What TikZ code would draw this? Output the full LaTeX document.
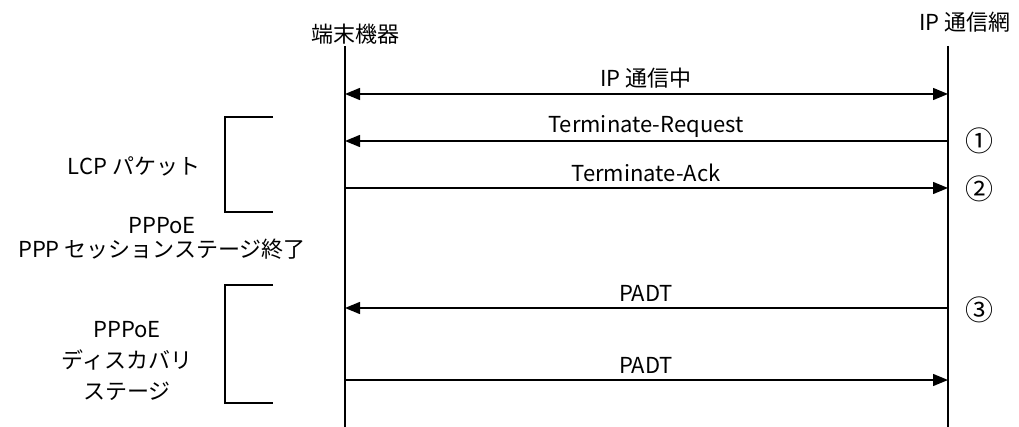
\documentclass[tikz,border=0pt]{standalone}
\usepackage{fontspec}
\setmainfont{Noto Sans CJK JP}
\usetikzlibrary{arrows.meta}
\tikzset{
  txt/.style={inner sep=0pt, font=\fontsize{22}{26}\selectfont},
  num/.style={inner sep=0pt, font=\fontsize{28}{30}\selectfont},
  life/.style={line width=1.6pt},
  msg/.style={line width=1.4pt, -{Triangle[length=15pt,width=12pt]}},
  dmsg/.style={line width=1.4pt, {Triangle[length=15pt,width=12pt]}-{Triangle[length=15pt,width=12pt]}},
  brk/.style={line width=1.3pt},
}
\begin{document}
\begin{tikzpicture}[x=1pt,y=-1pt]
\useasboundingbox (0,0) rectangle (1019,427);
% headers
\node[txt] (hA) at (355,34) {端末機器};
\node[txt] (hB) at (965,22) {IP 通信網};
% lifelines
\coordinate (aT) at (345,46);
\coordinate (aB) at (345,427);
\coordinate (bT) at (948,46);
\coordinate (bB) at (948,427);
\draw[life] (aT) -- (aB);
\draw[life] (bT) -- (bB);
% message endpoints
\coordinate (a1) at (345,94);  \coordinate (b1) at (948,94);
\coordinate (a2) at (345,141); \coordinate (b2) at (948,141);
\coordinate (a3) at (345,188); \coordinate (b3) at (948,188);
\coordinate (a4) at (345,308); \coordinate (b4) at (948,308);
\coordinate (a5) at (345,380); \coordinate (b5) at (948,380);
\draw[dmsg] (a1) -- (b1);
\draw[msg] (b2) -- (a2);
\draw[msg] (a3) -- (b3);
\draw[msg] (b4) -- (a4);
\draw[msg] (a5) -- (b5);
% message labels
\node[txt] (l1) at (646,78) {IP 通信中};
\node[txt] (l2) at (646,126) {Terminate-Request};
\node[txt] (l3) at (646,173) {Terminate-Ack};
\node[txt] (l4) at (646,293) {PADT};
\node[txt] (l5) at (646,365) {PADT};
% circled numbers
\node[num] (n1) at (979,141) {①};
\node[num] (n2) at (979,189) {②};
\node[num] (n3) at (979,310) {③};
% brackets
\draw[brk] (273,117) -- (225,117) -- (225,212) -- (273,212);
\draw[brk] (273,285) -- (225,285) -- (225,403) -- (273,403);
% left labels
\node[txt] (g1) at (134,166) {LCP パケット};
\node[txt] (g2) at (162,226) {PPPoE};
\node[txt] (g3) at (162,249) {PPP セッションステージ終了};
\node[txt, align=center, font=\fontsize{22}{31}\selectfont] (g4) at (127,361) {PPPoE\\ディスカバリ\\ステージ};
\end{tikzpicture}
\end{document}
